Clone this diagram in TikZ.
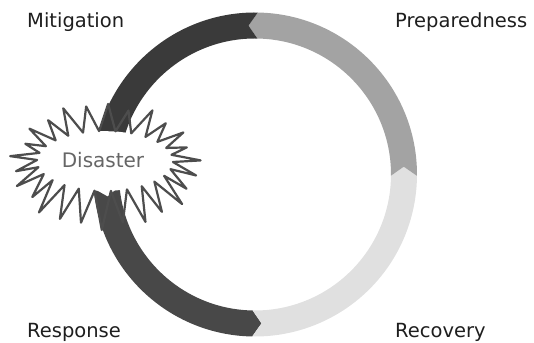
\documentclass[tikz,border=0pt]{standalone}
\usepackage{fontspec}
\setmainfont{DejaVu Sans}
\definecolor{mitc}{HTML}{3A3A3A}
\definecolor{prepc}{HTML}{A3A3A3}
\definecolor{recc}{HTML}{E0E0E0}
\definecolor{respc}{HTML}{484848}
\definecolor{starc}{HTML}{4D4D4D}
\definecolor{labelc}{HTML}{1E1E1E}
\definecolor{distxt}{HTML}{666666}
\newcommand\ringseg[3]{%
  \fill[#1] ([shift={(#2:162pt)}]C) arc[start angle=#2, end angle=#3, radius=162pt]
    -- ([shift={({#3+3.5}:149pt)}]C) -- ([shift={(#3:136pt)}]C)
    arc[start angle=#3, end angle=#2, radius=136pt]
    -- ([shift={({#2+3.5}:149pt)}]C) -- cycle;}
\begin{document}
\begin{tikzpicture}[x=1pt,y=1pt,
  lbl/.style={anchor=base west, text=labelc, inner sep=0pt, font=\fontsize{19.5}{23}\selectfont},
  startline/.style={draw=starc, line width=2.2pt, line join=round}]
\useasboundingbox (0,0) rectangle (534,342);
\coordinate (C) at (255,167.5);
% ring segments
\ringseg{respc}{185}{269}
\ringseg{recc}{269}{359.5}
\ringseg{prepc}{-0.5}{89}
\ringseg{mitc}{89}{178}
% starburst: white body
\fill[white] ({105+68*cos(-1.923)},{181+30*sin(-1.923)})
  \foreach \i in {0,...,25}{ -- ({105+68*cos(\i*13.846+11.923)},{181+30*sin(\i*13.846+11.923)}) } -- cycle;
% starburst outline
\draw[startline] ({105+68*cos(-1.923)},{181+30*sin(-1.923)})
  \foreach \f [count=\i from 0] in {1,.9,.97,.92,1,.9,.97,.95,1,.93,.98,.9,1,.93,.97,.9,1,.95,.92,1,.9,.97,.93,1,.92,.96}{
    -- ({105+96*\f*cos(\i*13.846+5)},{176+64*\f*sin(\i*13.846+5)})
    -- ({105+68*cos(\i*13.846+11.923)},{181+30*sin(\i*13.846+11.923)}) } -- cycle;
\node[text=distxt, font=\fontsize{20}{24}\selectfont] (disaster) at (103,182) {Disaster};
% labels
\node[lbl] (mitigation) at (27,314.7) {Mitigation};
\node[lbl] (preparedness) at (395,314.7) {Preparedness};
\node[lbl] (response) at (27,5) {Response};
\node[lbl] (recovery) at (395,5) {Recovery};
\end{tikzpicture}
\end{document}
